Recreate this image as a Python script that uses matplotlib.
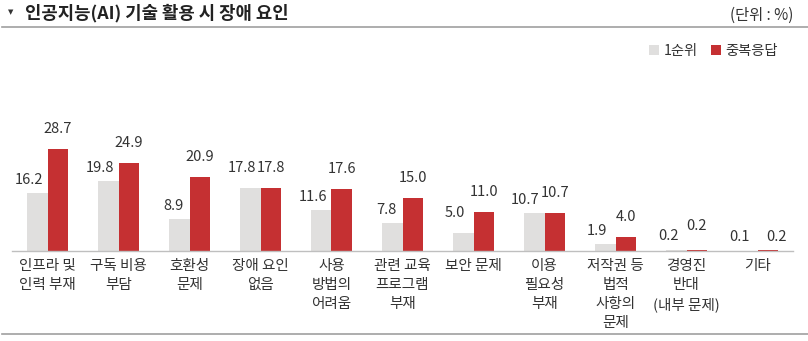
import matplotlib
matplotlib.use("Agg")
import matplotlib.pyplot as plt
import numpy as np

plt.rcParams['font.family'] = ['Noto Sans CJK KR', 'DejaVu Sans']

categories = ["인프라 및\n인력 부재", "구독 비용\n부담", "호환성\n문제", "장애 요인\n없음",
              "사용\n방법의\n어려움", "관련 교육\n프로그램\n부재", "보안 문제", "이용\n필요성\n부재",
              "저작권 등\n법적\n사항의\n문제", "경영진\n반대\n(내부 문제)", "기타"]
first_rank = [16.2, 19.8, 8.9, 17.8, 11.6, 7.8, 5.0, 10.7, 1.9, 0.2, 0.1]
multi_resp = [28.7, 24.9, 20.9, 17.8, 17.6, 15.0, 11.0, 10.7, 4.0, 0.2, 0.2]
series_names = ["1순위", "중복응답"]

GRAY = "#E0DFDE"
RED = "#C53032"
TEXT = "#333333"

DPI = 100
fig = plt.figure(figsize=(8.08, 3.41), dpi=DPI)
W, H = 808, 341
PT = 72 / DPI  # points per pixel

# Title and header rules
fig.text(11 / W, 1 - 12 / H, "▼", fontsize=5, color=TEXT, ha="center", va="center",
         family=['DejaVu Sans'])
fig.text(25 / W, 1 - 13 / H, "인공지능(AI) 기술 활용 시 장애 요인", fontsize=12.8,
         fontweight="bold", color="#222222", ha="left", va="center")
fig.text(793 / W, 1 - 15 / H, "(단위 : %)", fontsize=11, color=TEXT, ha="right", va="center")
fig.add_artist(plt.Line2D([2 / W, 1], [1 - 27 / H, 1 - 27 / H], color="#A0A0A0", lw=1.2))
fig.add_artist(plt.Line2D([2 / W, 1], [1 - 334 / H, 1 - 334 / H], color="#A0A0A0", lw=1.2))

# Plot area
ymax = 40
px_per_unit = 3.55
h_px = ymax * px_per_unit
ax = fig.add_axes([12 / W, (H - 251) / H, (793 - 12) / W, h_px / H])
x = np.arange(len(categories))
bw = 0.29
ax.bar(x - bw / 2, first_rank, bw, color=GRAY, label=series_names[0])
ax.bar(x + bw / 2, multi_resp, bw, color=RED, label=series_names[1])

# Value labels: gray ones sit to the upper left of their bar, red ones centred above
gray_lift = [13, 13, 13, 20, 13, 13, 20, 13, 13, 14, 14]
gray_shift = [-4, -4, -6, -4, -4, -6, -8, -5, -8, -8, -8]
red_lift = [20, 20, 20, 20, 20, 20, 20, 20, 20, 24, 13]
red_shift = [0, 0, 0, 0, 0, 0, 0, 0, 0, 0, 9]
for xi, v, dy, dx in zip(x, first_rank, gray_lift, gray_shift):
    ax.annotate(f"{v:.1f}", (xi, v), xytext=(dx * PT, dy * PT), textcoords="offset points",
                ha="right", va="center", fontsize=10.5, color=TEXT)
for xi, v, dy, dx in zip(x, multi_resp, red_lift, red_shift):
    ax.annotate(f"{v:.1f}", (xi + bw / 2, v), xytext=(dx * PT, dy * PT),
                textcoords="offset points", ha="center", va="center", fontsize=10.5, color=TEXT)

ax.set_xlim(-0.5, len(categories) - 0.5)
ax.set_ylim(0, ymax)
ax.set_xticks(x)
ax.set_xticklabels(categories, fontsize=10.5, color=TEXT, linespacing=1.45, va="top")
ax.tick_params(axis="x", length=0, pad=6)
ax.set_yticks([])
for s in ["top", "left", "right"]:
    ax.spines[s].set_visible(False)
ax.spines["bottom"].set_color("#BFBFBF")
ax.spines["bottom"].set_linewidth(1)

leg = fig.legend(loc="center right", bbox_to_anchor=(791 / W, 1 - 51 / H), ncol=2,
                 frameon=False, fontsize=10.3, handlelength=0.75, handleheight=0.75,
                 handletextpad=0.3, columnspacing=0.9)
for t in leg.get_texts():
    t.set_color(TEXT)

fig.savefig("out.png", dpi=DPI)
